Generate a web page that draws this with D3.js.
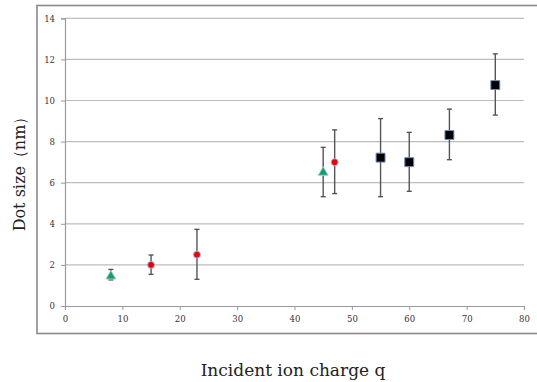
<!DOCTYPE html>
<html>
<head>
<meta charset="utf-8">
<script src="https://cdn.jsdelivr.net/npm/d3@7"></script>
<style>
  html, body { margin: 0; padding: 0; background: #fff; }
  svg { display: block; }
</style>
</head>
<body>
<svg id="chart" width="537" height="382"></svg>
<script>
// Dot size vs. incident ion charge, with error bars
const charges   = [8, 15, 23, 45, 47, 55, 60, 67, 75];
const sizes     = [1.45, 2.0, 2.5, 6.5, 7.0, 7.22, 7.0, 8.32, 10.75];
const errLow    = [1.27, 1.54, 1.3, 5.32, 5.47, 5.32, 5.58, 7.12, 9.29];
const errHigh   = [1.78, 2.48, 3.73, 7.72, 8.57, 9.12, 8.45, 9.58, 12.27];
const groups    = ["triangle", "circle", "circle", "triangle", "circle", "square", "square", "square", "square"];
const xTicks    = [0, 10, 20, 30, 40, 50, 60, 70, 80];
const yTicks    = [0, 2, 4, 6, 8, 10, 12, 14];

const svg = d3.select("#chart");
const serif = "'DejaVu Serif', 'Liberation Serif', serif";

const x = d3.scaleLinear().domain([0, 80]).range([65, 524]);
const y = d3.scaleLinear().domain([0, 14]).range([306, 18.3]);

// outer frame
svg.append("rect")
  .attr("x", 37).attr("y", 5.5)
  .attr("width", 520).attr("height", 328)
  .attr("fill", "none").attr("stroke", "#8a8a8a").attr("stroke-width", 1.6);

// horizontal gridlines
svg.append("g").selectAll("line").data(yTicks.filter(d => d > 0)).join("line")
  .attr("x1", x(0)).attr("x2", x(80))
  .attr("y1", d => y(d)).attr("y2", d => y(d))
  .attr("stroke", "#bdbdbd").attr("stroke-width", 1.2);

// y axis
const yAxis = svg.append("g")
  .attr("transform", `translate(${x(0)},0)`)
  .call(d3.axisLeft(y).tickValues(yTicks).tickSize(4).tickPadding(6));
yAxis.select(".domain").attr("stroke", "#9a9a9a").attr("stroke-width", 1.2);
yAxis.selectAll(".tick line").attr("stroke", "#9a9a9a");
yAxis.selectAll("text").attr("font-family", serif).attr("font-size", 8.5).attr("fill", "#333");

// x axis
const xAxis = svg.append("g")
  .attr("transform", `translate(0,${y(0)})`)
  .call(d3.axisBottom(x).tickValues(xTicks).tickSize(4).tickPadding(6));
xAxis.select(".domain").attr("stroke", "#9a9a9a").attr("stroke-width", 1.2);
xAxis.selectAll(".tick line").attr("stroke", "#9a9a9a");
xAxis.selectAll("text").attr("font-family", serif).attr("font-size", 8.5).attr("fill", "#333");

const pts = charges.map((q, i) => ({ q, v: sizes[i], lo: errLow[i], hi: errHigh[i], g: groups[i] }));

// error bars
const eb = svg.append("g").attr("stroke", "#555").attr("stroke-width", 1.4);
eb.selectAll("line.v").data(pts).join("line")
  .attr("x1", d => x(d.q)).attr("x2", d => x(d.q))
  .attr("y1", d => y(d.lo)).attr("y2", d => y(d.hi));
eb.selectAll("line.top").data(pts).join("line")
  .attr("x1", d => x(d.q) - 2.5).attr("x2", d => x(d.q) + 2.5)
  .attr("y1", d => y(d.hi)).attr("y2", d => y(d.hi));
eb.selectAll("line.bot").data(pts).join("line")
  .attr("x1", d => x(d.q) - 2.5).attr("x2", d => x(d.q) + 2.5)
  .attr("y1", d => y(d.lo)).attr("y2", d => y(d.lo));

// markers
const style = {
  square:   { sym: d3.symbolSquare,   size: 80, fill: "#000",    stroke: "#6f8fbf" },
  circle:   { sym: d3.symbolCircle,   size: 38, fill: "#ee0000", stroke: "#9fb6e0" },
  triangle: { sym: d3.symbolTriangle, size: 42, fill: "#10a060", stroke: "#a9c4e6" }
};
svg.append("g").selectAll("path").data(pts).join("path")
  .attr("transform", d => `translate(${x(d.q)},${y(d.v)})`)
  .attr("d", d => d3.symbol(style[d.g].sym, style[d.g].size)())
  .attr("fill", d => style[d.g].fill)
  .attr("stroke", d => style[d.g].stroke)
  .attr("stroke-width", 1);

// axis titles
svg.append("text")
  .attr("x", 293).attr("y", 376)
  .attr("text-anchor", "middle")
  .attr("font-family", serif).attr("font-size", 17).attr("fill", "#222")
  .text("Incident ion charge q");

svg.append("text")
  .attr("transform", "translate(25,170) rotate(-90)")
  .attr("text-anchor", "middle")
  .attr("font-family", serif).attr("font-size", 16).attr("fill", "#222")
  .text("Dot size（nm）");
</script>
</body>
</html>
